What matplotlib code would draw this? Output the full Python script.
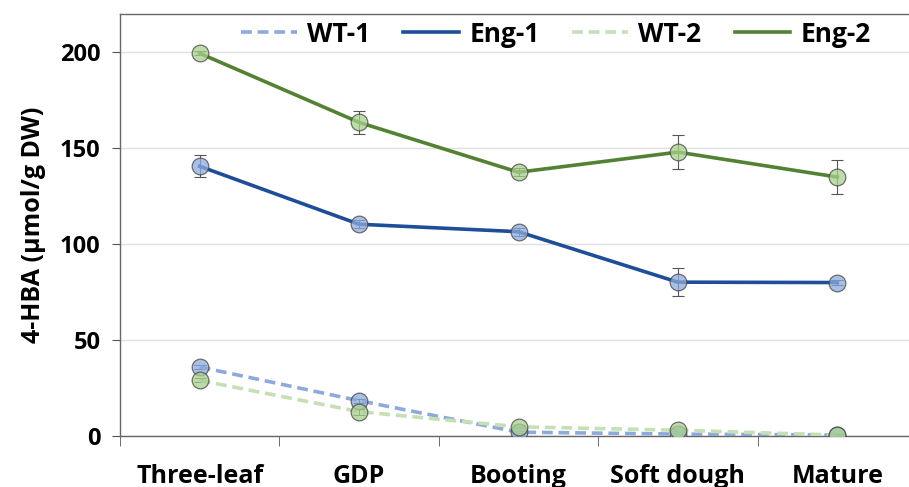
import matplotlib
matplotlib.use("Agg")
import matplotlib.pyplot as plt

plt.rcParams['font.family'] = ['Open Sans', 'DejaVu Sans']

stages = ["Three-leaf", "GDP", "Booting", "Soft dough", "Mature"]
wt1 = [36, 18.4, 2, 1, 0.5]
wt1_err = [1, 1, 0.5, 0.5, 0.3]
eng1 = [140.6, 110.4, 106.5, 80.2, 80]
eng1_err = [5.7, 2, 2, 7.3, 1.5]
wt2 = [29, 12.7, 4.8, 3, 0.5]
wt2_err = [1, 1.5, 0.5, 0.5, 0.3]
eng2 = [199.5, 163.5, 137.5, 148, 135]
eng2_err = [1, 6, 2, 9, 8.7]
yticks = [0, 50, 100, 150, 200]

fig = plt.figure(figsize=(9.09, 4.87), dpi=100)
ax = fig.add_axes([120/909, 51/487, (917-120)/909, (436-14)/487])

x = list(range(len(stages)))
series = [
    ("WT-1", wt1, wt1_err, "#8eaadb", "--", "#8eaadb"),
    ("Eng-1", eng1, eng1_err, "#1f4e99", "-", "#8eaadb"),
    ("WT-2", wt2, wt2_err, "#c5e0b4", "--", "#a9d18e"),
    ("Eng-2", eng2, eng2_err, "#548235", "-", "#a9d18e"),
]
handles = []
for name, vals, err, lc, ls, fc in series:
    ax.errorbar(x, vals, yerr=err, fmt='none', ecolor='#555555', elinewidth=0.8,
                capsize=4, capthick=0.8, zorder=2)
    (h,) = ax.plot(x, vals, color=lc, linestyle=ls, linewidth=2.6, zorder=3, label=name)
    if ls == "--":
        h.set_dashes((3, 1.6))
    ax.plot(x, vals, linestyle='none', marker='o', markersize=12,
            markerfacecolor=fc, markeredgecolor='#444444', markeredgewidth=0.9,
            alpha=0.75, zorder=4)
    handles.append(h)

ax.set_xlim(-0.5, 4.5)
ax.set_ylim(0, 220)
ax.set_yticks(yticks)
ax.set_yticklabels([str(t) for t in yticks], fontsize=17, fontweight='bold')
ax.set_xticks(x)
ax.set_xticklabels(stages, fontsize=18, fontweight='bold')
ax.tick_params(axis='x', length=0, pad=20)
ax.set_xticks([i + 0.5 for i in range(-1, 4)], minor=True)
ax.tick_params(axis='x', which='minor', length=7, direction='out', color='#555555')
ax.tick_params(axis='y', length=6, direction='out', color='#555555', pad=8)
ax.yaxis.grid(True, color='#e0e0e0', linewidth=1)
ax.set_axisbelow(True)
for s in ['left', 'top', 'right', 'bottom']:
    ax.spines[s].set_color('#666666')
    ax.spines[s].set_linewidth(1)
ax.set_ylabel("4-HBA (µmol/g DW)", fontsize=18, fontweight='bold', labelpad=10)

leg = ax.legend(handles=handles, loc='center', bbox_to_anchor=((556 - 120) / 797, (436 - 34) / 422),
                ncol=4, frameon=False, prop={'weight': 'bold', 'size': 19},
                handlelength=2.1, columnspacing=1.25, handletextpad=0.4)

fig.savefig("out.png", dpi=100)
